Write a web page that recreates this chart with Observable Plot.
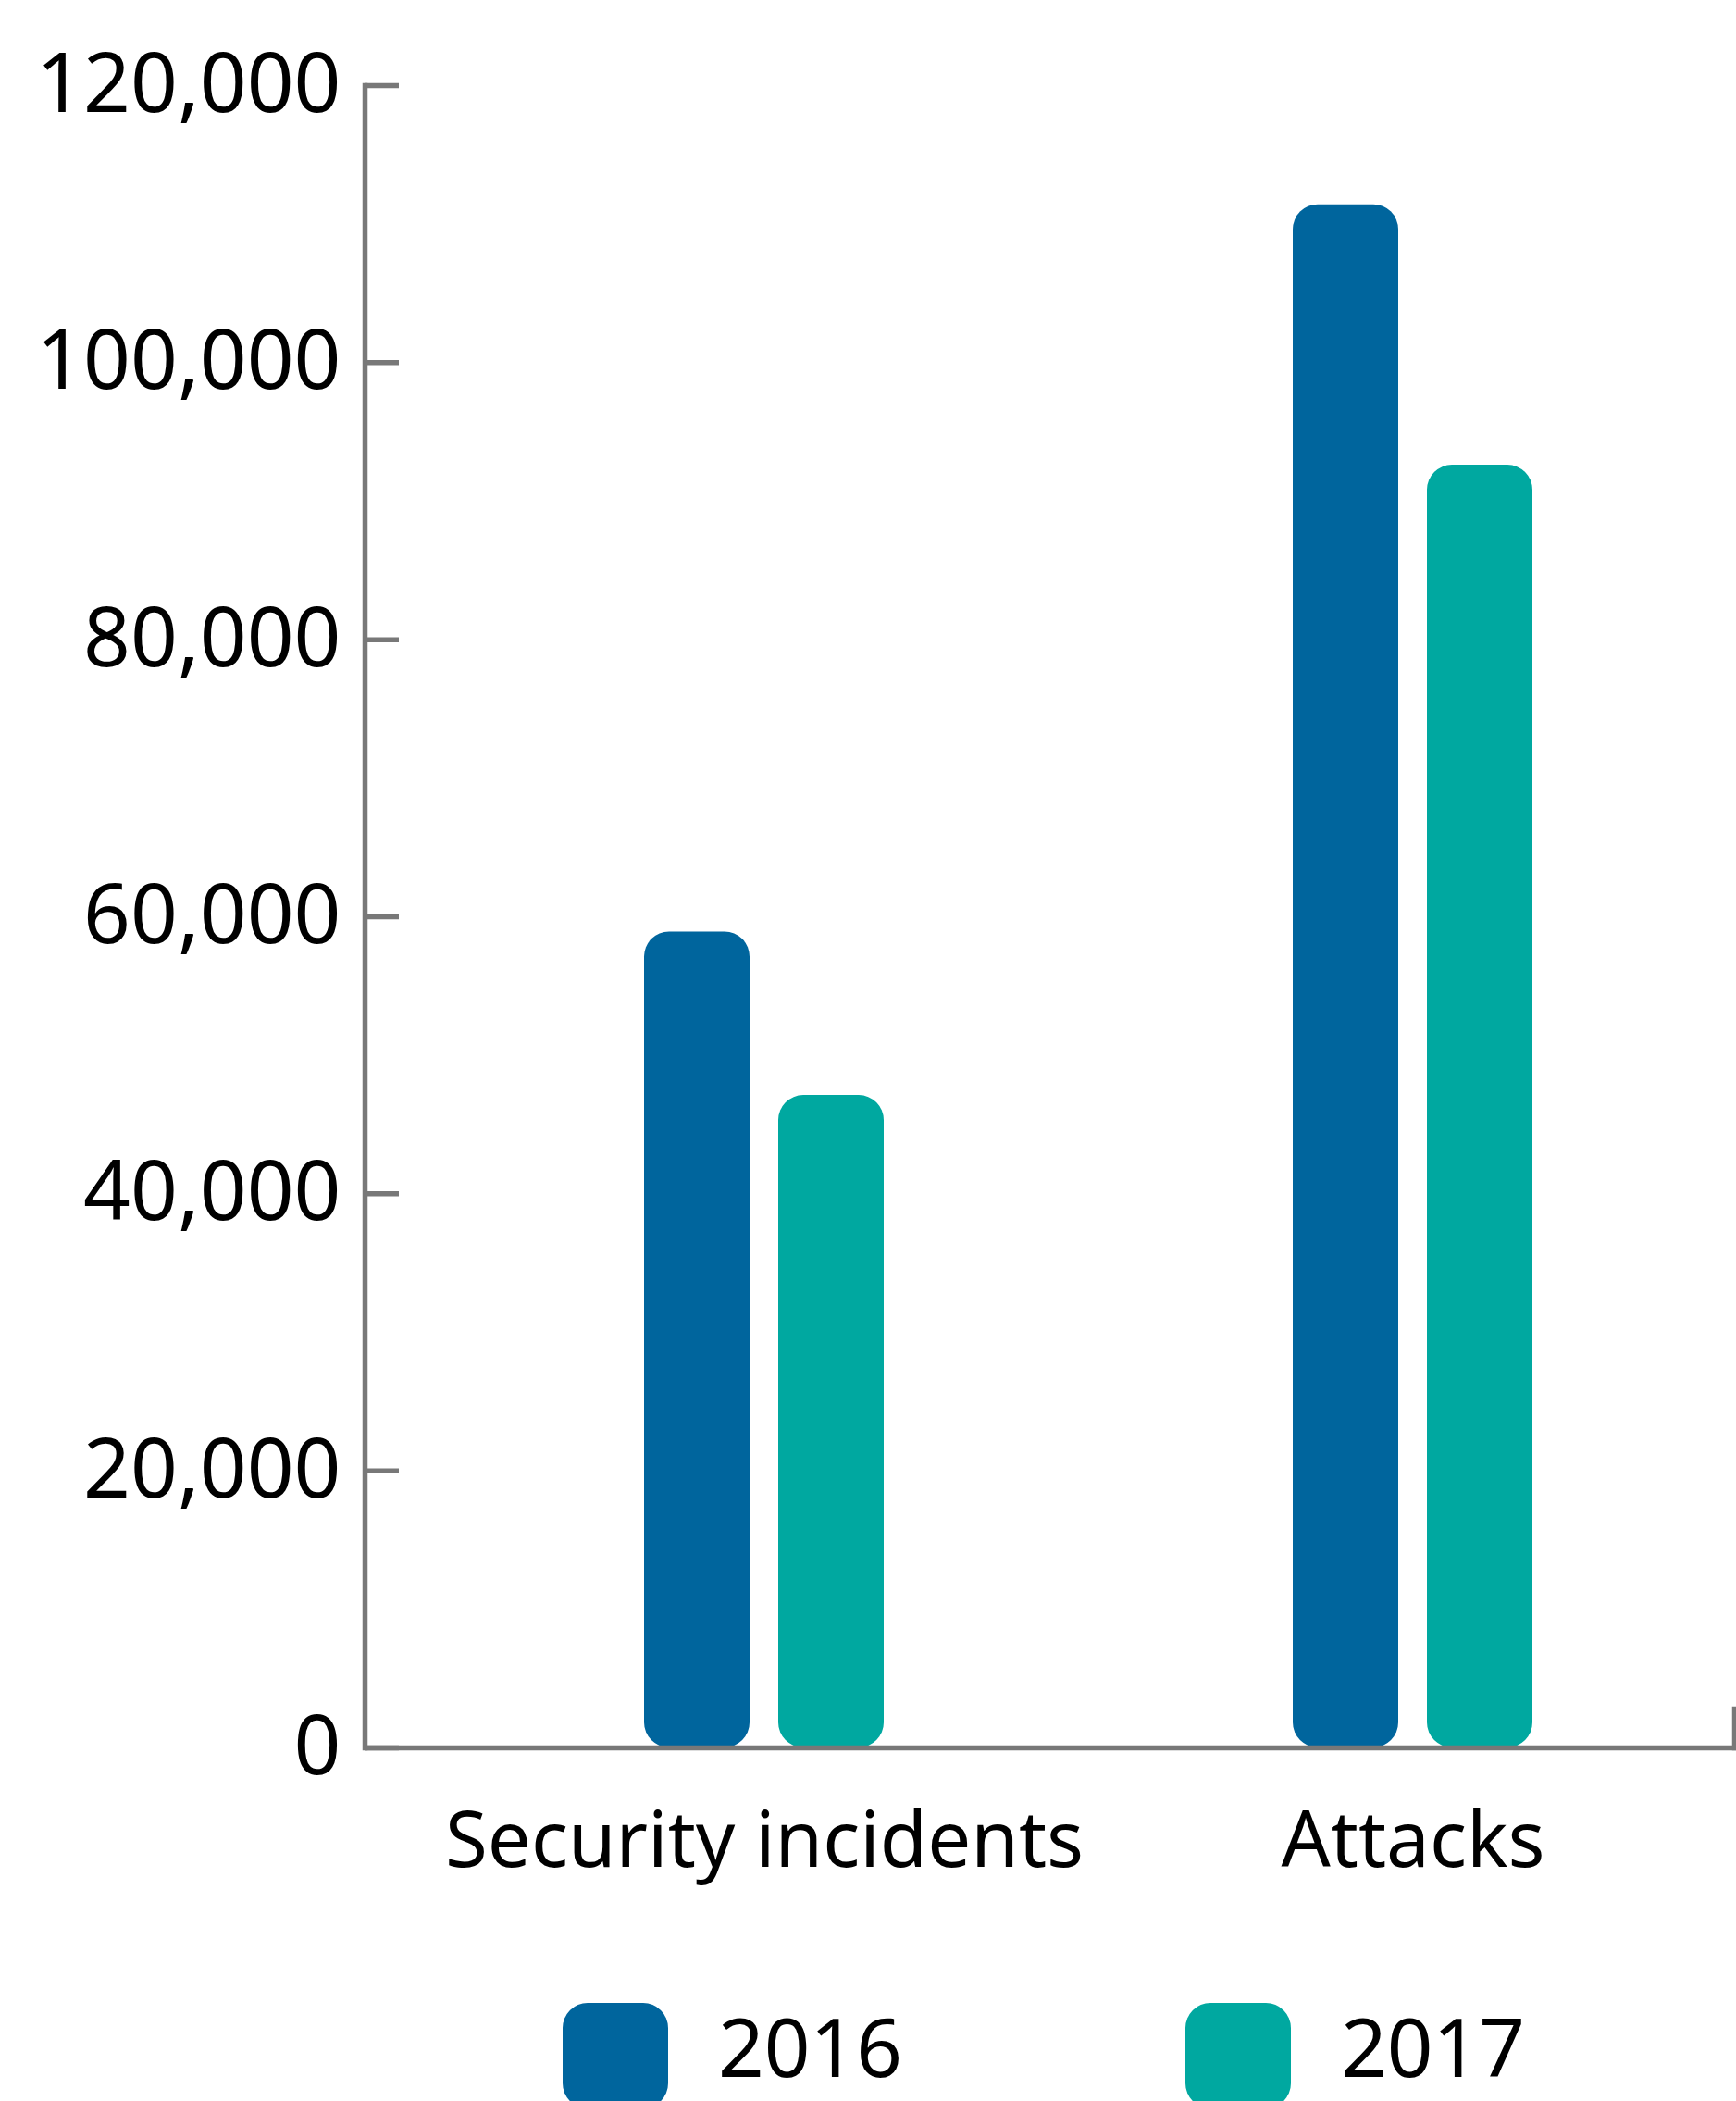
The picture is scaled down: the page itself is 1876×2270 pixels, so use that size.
<!DOCTYPE html>
<html><head><meta charset="utf-8">
<script src="https://cdn.jsdelivr.net/npm/d3@7"></script>
<script src="https://cdn.jsdelivr.net/npm/@observablehq/plot@0.6"></script>
<style>
body{margin:0;background:#fff;font-family:"Noto Sans",sans-serif;}
#chart{position:relative;width:1876px;height:2270px;overflow:hidden;background:#fff;}
.legend{position:relative;height:170px;width:1876px;}
.sw{position:absolute;top:64px;width:114px;height:114px;border-radius:27px;}
.lab{position:absolute;top:67px;font-size:87px;line-height:1;color:#000;font-family:"Noto Sans",sans-serif;}
</style></head><body><div id="chart"></div>
<script>
const categories = ["Security incidents", "Attacks"];
const years = ["2016", "2017"];
const values2016 = [58900, 111400];
const values2017 = [47100, 92600];
const yTicks = [0, 20000, 40000, 60000, 80000, 100000, 120000];
const colors = ["#00659d", "#00a8a0"];

const rows2016 = categories.map((c, i) => ({category: c, value: values2016[i], year: years[0]}));
const rows2017 = categories.map((c, i) => ({category: c, value: values2017[i], year: years[1]}));
const axisColor = "#787878";
const sw = 5.5;

const plot = Plot.plot({
  width: 1876, height: 2100,
  marginTop: 92, marginBottom: 212, marginLeft: 394, marginRight: 0,
  style: {fontFamily: '"Noto Sans", sans-serif', fontSize: "85px", color: "#000", background: "#fff"},
  x: {type: "band", domain: categories, paddingInner: 0.5, paddingOuter: 0.3056, align: 0.5956, label: null},
  y: {domain: [0, 120000], label: null},
  color: {domain: years, range: colors},
  marks: [
    Plot.barY(rows2016, {x: "category", y: "value", fill: "year", insetLeft: 46, insetRight: 191, rx: 27}),
    Plot.barY(rows2017, {x: "category", y: "value", fill: "year", insetLeft: 191, insetRight: 46, rx: 27}),
    Plot.axisX({tickSize: 0, tickPadding: 69, fontSize: 83.5, label: null}),
    Plot.axisY(yTicks, {tickSize: 0, tickPadding: 26, fontSize: 89, label: null, tickFormat: d3.format(",")}),
    Plot.tickY(yTicks, {y: d => d, stroke: axisColor, strokeWidth: sw, insetRight: 1445}),
    Plot.frame({anchor: "left", stroke: axisColor, strokeWidth: sw}),
    Plot.ruleY([0], {stroke: axisColor, strokeWidth: sw}),
    Plot.frame({anchor: "right", stroke: axisColor, strokeWidth: sw, insetTop: 1754, insetRight: 2})
  ]
});
const chart = document.getElementById("chart");
chart.appendChild(plot);

const legend = document.createElement("div");
legend.className = "legend";
const swLeft = [608, 1281];
const labLeft = [776, 1449];
years.forEach((y, i) => {
  const s = document.createElement("div");
  s.className = "sw";
  s.style.left = swLeft[i] + "px";
  s.style.background = colors[i];
  legend.appendChild(s);
  const t = document.createElement("div");
  t.className = "lab";
  t.style.left = labLeft[i] + "px";
  t.textContent = y;
  legend.appendChild(t);
});
chart.appendChild(legend);
</script></body></html>
